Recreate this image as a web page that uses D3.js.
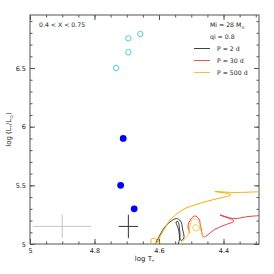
<!DOCTYPE html>
<html lang="en">
<head>
<meta charset="UTF-8">
<title>HR diagram tracks</title>
<script src="https://cdn.jsdelivr.net/npm/d3@7/dist/d3.min.js"></script>
<style>
  body { margin: 0; background: #fff; }
  text { font-family: "DejaVu Sans", sans-serif; fill: #222; }
</style>
</head>
<body>
<script>
// ---- data (log Teff, log L) ----
const xTicks = [5, 4.8, 4.6, 4.4];
const yTicks = [5, 5.5, 6, 6.5];

const openStars = [[4.733, 6.50], [4.695, 6.634], [4.695, 6.753], [4.658, 6.79]];
const filledStars = [[4.711, 5.90], [4.719, 5.50], [4.677, 5.30]];

// error crosses: [logT, logL, dT, dL]
const errLight = [4.90, 5.15, 0.09, 0.10];
const errDark = [4.695, 5.15, 0.03, 0.10];

const trackP2 = [[4.6125, 4.996], [4.597, 5.077], [4.582, 5.145], [4.566, 5.188], [4.546, 5.217],
  [4.533, 5.196], [4.527, 5.128], [4.523, 5.051], [4.532, 5.030], [4.540, 5.128], [4.547, 5.188],
  [4.541, 5.192], [4.537, 5.136], [4.535, 5.068], [4.541, 4.991]];

const trackP30 = [[4.504, 5.094], [4.510, 5.153], [4.501, 5.213], [4.489, 5.239], [4.476, 5.213],
  [4.472, 5.162], [4.468, 5.111], [4.462, 5.060], [4.427, 5.124], [4.396, 5.162], [4.368, 5.196],
  [4.411, 5.247], [4.368, 5.217], [4.324, 5.234], [4.281, 5.243]];

const trackP500a = [[4.588, 4.991], [4.603, 5.026], [4.616, 5.051], [4.625, 5.034], [4.622, 5.000],
  [4.609, 5.004], [4.602, 5.034], [4.591, 5.094], [4.578, 5.153], [4.563, 5.213], [4.541, 5.264],
  [4.516, 5.307], [4.489, 5.332], [4.454, 5.362], [4.411, 5.392], [4.377, 5.418], [4.396, 5.435],
  [4.427, 5.447], [4.365, 5.439], [4.281, 5.447]];
const trackP500b = [[4.538, 4.991], [4.523, 5.034], [4.510, 5.077], [4.504, 5.153], [4.498, 5.205],
  [4.489, 5.217], [4.478, 5.192], [4.473, 5.145], [4.479, 5.115], [4.492, 5.119], [4.495, 5.153],
  [4.485, 5.166], [4.473, 5.128], [4.464, 5.068]];

const legendItems = [
  { label: "P = 2 d", color: "#111111" },
  { label: "P = 30 d", color: "#e8282b" },
  { label: "P = 500 d", color: "#f5b000" }
];

// ---- layout ----
const W = 274, H = 274;
const mLeft = 30, mRight = 259, mTop = 15, mBottom = 244;

const svg = d3.select("body").append("svg")
  .attr("width", W).attr("height", H);

const x = d3.scaleLinear().domain([5, 4.29]).range([mLeft, mRight]);
const y = d3.scaleLinear().domain([5, 6.952]).range([mBottom, mTop]);

svg.append("clipPath").attr("id", "clip")
  .append("rect").attr("x", mLeft).attr("y", mTop)
  .attr("width", mRight - mLeft).attr("height", mBottom - mTop);

// axes: major + minor ticks on all sides, pointing inward
const xMinor = d3.range(4.3, 5.001, 0.05);
const yMinor = d3.range(5, 6.95, 0.1);
const axisColor = "#555";

function styleAxis(g) {
  g.select(".domain").remove();
  g.selectAll("line").attr("stroke", axisColor);
  g.selectAll("text").attr("font-size", 6.5).attr("fill", "#222")
    .attr("font-family", "DejaVu Sans, sans-serif");
}

svg.append("g").attr("transform", `translate(0,${mBottom})`)
  .call(d3.axisBottom(x).tickValues(xTicks).tickSize(-5).tickPadding(4).tickFormat(d3.format("")))
  .call(styleAxis);
svg.append("g").attr("transform", `translate(0,${mBottom})`)
  .call(d3.axisBottom(x).tickValues(xMinor).tickSize(-2.5).tickFormat(""))
  .call(styleAxis);
svg.append("g").attr("transform", `translate(0,${mTop})`)
  .call(d3.axisTop(x).tickValues(xTicks).tickSize(-5).tickFormat(""))
  .call(styleAxis);
svg.append("g").attr("transform", `translate(0,${mTop})`)
  .call(d3.axisTop(x).tickValues(xMinor).tickSize(-2.5).tickFormat(""))
  .call(styleAxis);

svg.append("g").attr("transform", `translate(${mLeft},0)`)
  .call(d3.axisLeft(y).tickValues(yTicks).tickSize(-5).tickPadding(4).tickFormat(d3.format("")))
  .call(styleAxis);
svg.append("g").attr("transform", `translate(${mLeft},0)`)
  .call(d3.axisLeft(y).tickValues(yMinor).tickSize(-2.5).tickFormat(""))
  .call(styleAxis);
svg.append("g").attr("transform", `translate(${mRight},0)`)
  .call(d3.axisRight(y).tickValues(yTicks).tickSize(-5).tickFormat(""))
  .call(styleAxis);
svg.append("g").attr("transform", `translate(${mRight},0)`)
  .call(d3.axisRight(y).tickValues(yMinor).tickSize(-2.5).tickFormat(""))
  .call(styleAxis);

svg.append("rect")
  .attr("x", mLeft).attr("y", mTop)
  .attr("width", mRight - mLeft).attr("height", mBottom - mTop)
  .attr("fill", "none").attr("stroke", axisColor).attr("stroke-width", 1);

// axis titles
const xt = svg.append("text")
  .attr("x", (mLeft + mRight) / 2).attr("y", 261)
  .attr("text-anchor", "middle").attr("font-size", 7);
xt.append("tspan").text("log T");
xt.append("tspan").attr("font-size", 4.5).attr("dy", 1.5).text("*");

const yt = svg.append("text")
  .attr("transform", `translate(11,${(mTop + mBottom) / 2}) rotate(-90)`)
  .attr("text-anchor", "middle").attr("font-size", 7);
yt.append("tspan").text("log (L");
yt.append("tspan").attr("font-size", 4.5).attr("dy", 1.5).text("*");
yt.append("tspan").attr("dy", -1.5).text("/L");
yt.append("tspan").attr("font-size", 4.5).attr("dy", 1.5).text("⊙");
yt.append("tspan").attr("dy", -1.5).text(")");

// ---- plot content ----
const plot = svg.append("g").attr("clip-path", "url(#clip)");

function cross(e, color) {
  const [t, l, dt, dl] = e;
  plot.append("line").attr("x1", x(t + dt)).attr("x2", x(t - dt))
    .attr("y1", y(l)).attr("y2", y(l)).attr("stroke", color).attr("stroke-width", 1);
  plot.append("line").attr("x1", x(t)).attr("x2", x(t))
    .attr("y1", y(l - dl)).attr("y2", y(l + dl)).attr("stroke", color).attr("stroke-width", 1);
}
cross(errLight, "#c4c4c4");
cross(errDark, "#333");

const line = d3.line().x(d => x(d[0])).y(d => y(d[1])).curve(d3.curveCatmullRom.alpha(0.5));

plot.append("path").datum(trackP2).attr("d", line)
  .attr("fill", "none").attr("stroke", legendItems[0].color).attr("stroke-width", 0.8);
plot.append("path").datum(trackP30).attr("d", line)
  .attr("fill", "none").attr("stroke", legendItems[1].color).attr("stroke-width", 0.9);
plot.append("path").datum(trackP500a).attr("d", line)
  .attr("fill", "none").attr("stroke", legendItems[2].color).attr("stroke-width", 1);
plot.append("path").datum(trackP500b).attr("d", line)
  .attr("fill", "none").attr("stroke", "#f5d040").attr("stroke-width", 1);

plot.selectAll("circle.open").data(openStars).enter().append("circle")
  .attr("class", "open")
  .attr("cx", d => x(d[0])).attr("cy", d => y(d[1])).attr("r", 2.7)
  .attr("fill", "none").attr("stroke", "#33cccc").attr("stroke-width", 0.9);

plot.selectAll("circle.filled").data(filledStars).enter().append("circle")
  .attr("class", "filled")
  .attr("cx", d => x(d[0])).attr("cy", d => y(d[1])).attr("r", 3.4)
  .attr("fill", "#0000ff");

// ---- annotations ----
svg.append("text").attr("x", 39).attr("y", 27).attr("font-size", 6.2)
  .text("0.4 < X < 0.75");

const mi = svg.append("text").attr("x", 210).attr("y", 27).attr("font-size", 6.2);
mi.append("tspan").text("Mi = 28 M");
mi.append("tspan").attr("font-size", 4).attr("dy", 1.5).text("⊙");

svg.append("text").attr("x", 210).attr("y", 39).attr("font-size", 6.2).text("qi = 0.8");

const lg = svg.selectAll("g.leg").data(legendItems).enter().append("g")
  .attr("class", "leg")
  .attr("transform", (d, i) => `translate(0,${48.5 + i * 12})`);
lg.append("line").attr("x1", 194).attr("x2", 210).attr("y1", 0).attr("y2", 0)
  .attr("stroke", d => d.color).attr("stroke-width", 0.8);
lg.append("text").attr("x", 217).attr("y", 2.2).attr("font-size", 6.2).text(d => d.label);
</script>
</body>
</html>
